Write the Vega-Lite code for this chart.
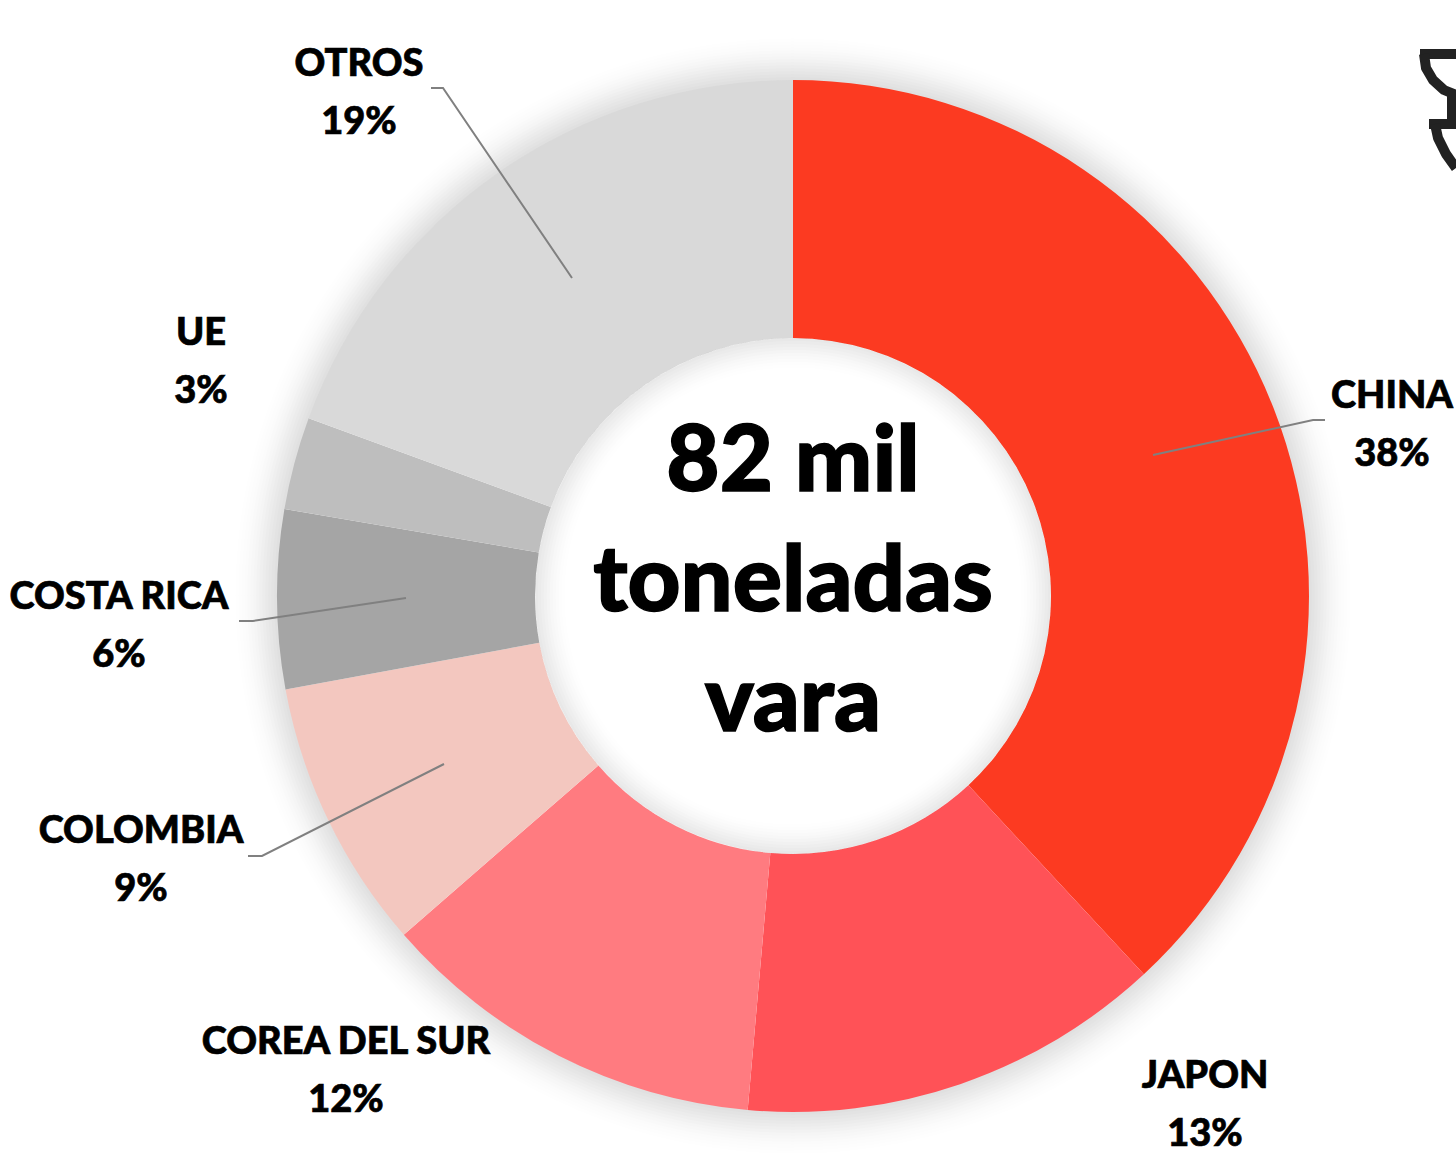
{
"$schema":"https://vega.github.io/schema/vega-lite/v6.json",
"autosize":{"type":"none"},
"width":1456,"height":1153,"padding":0,"background":"#ffffff",
"config":{"view":{"stroke":null}},
"datasets":{
"paises":[
{"pais":"CHINA","pct":38.1,"orden":1},
{"pais":"JAPON","pct":13.3,"orden":2},
{"pais":"COREA DEL SUR","pct":12.2,"orden":3},
{"pais":"COLOMBIA","pct":8.5,"orden":4},
{"pais":"COSTA RICA","pct":5.6,"orden":5},
{"pais":"UE","pct":2.9,"orden":6},
{"pais":"OTROS","pct":19.4,"orden":7}],
"etiquetas":[
{"label":"OTROS\n19%","x":-434,"y":520},
{"label":"UE\n3%","x":-592,"y":251},
{"label":"CHINA\n38%","x":599,"y":188},
{"label":"COSTA RICA\n6%","x":-674,"y":-13},
{"label":"COLOMBIA\n9%","x":-652,"y":-247},
{"label":"COREA DEL SUR\n12%","x":-447,"y":-458},
{"label":"JAPON\n13%","x":412,"y":-492}],
"guias":[
{"g":"OTROS","i":1,"x":-362,"y":508},{"g":"OTROS","i":2,"x":-350,"y":508},{"g":"OTROS","i":3,"x":-221,"y":318},
{"g":"CHINA","i":1,"x":532,"y":176},{"g":"CHINA","i":2,"x":520,"y":176},{"g":"CHINA","i":3,"x":360,"y":141},
{"g":"COSTA RICA","i":1,"x":-554,"y":-25},{"g":"COSTA RICA","i":2,"x":-540,"y":-25},{"g":"COSTA RICA","i":3,"x":-387,"y":-2},
{"g":"COLOMBIA","i":1,"x":-545,"y":-260},{"g":"COLOMBIA","i":2,"x":-531,"y":-260},{"g":"COLOMBIA","i":3,"x":-349,"y":-168}],
"icono":[
{"g":"a","i":1,"x":627,"y":542},{"g":"a","i":2,"x":663,"y":542},
{"g":"b","i":1,"x":631,"y":542},{"g":"b","i":2,"x":633,"y":528},{"g":"b","i":3,"x":640,"y":516},{"g":"b","i":4,"x":651,"y":506},{"g":"b","i":5,"x":663,"y":501},
{"g":"c","i":1,"x":659,"y":501},{"g":"c","i":2,"x":659,"y":474},
{"g":"d","i":1,"x":636,"y":472},{"g":"d","i":2,"x":663,"y":472},
{"g":"e","i":1,"x":642,"y":472},{"g":"e","i":2,"x":645,"y":458},{"g":"e","i":3,"x":653,"y":442},{"g":"e","i":4,"x":663,"y":428}],
"centro":[{"t":"82 mil\ntoneladas\nvara","x":0,"y":105.5}],
"c":[{"nombre":"centro"}]
},
"layer":[
{
"encoding":{
"x":{"datum":0,"type":"quantitative","scale":{"domain":[-793,663],"nice":false,"zero":false},"axis":null},
"y":{"datum":0,"type":"quantitative","scale":{"domain":[-557,596],"nice":false,"zero":false},"axis":null}
},
"layer":[
{"data":{"name":"c"},"mark":{"type":"arc","theta":0,"theta2":6.2832,"innerRadius":515,"radius":558,"fill":"#000","opacity":0.002}},
{"data":{"name":"c"},"mark":{"type":"arc","theta":0,"theta2":6.2832,"innerRadius":515,"radius":555,"fill":"#000","opacity":0.003}},
{"data":{"name":"c"},"mark":{"type":"arc","theta":0,"theta2":6.2832,"innerRadius":515,"radius":552,"fill":"#000","opacity":0.004}},
{"data":{"name":"c"},"mark":{"type":"arc","theta":0,"theta2":6.2832,"innerRadius":515,"radius":549,"fill":"#000","opacity":0.005}},
{"data":{"name":"c"},"mark":{"type":"arc","theta":0,"theta2":6.2832,"innerRadius":515,"radius":546,"fill":"#000","opacity":0.006}},
{"data":{"name":"c"},"mark":{"type":"arc","theta":0,"theta2":6.2832,"innerRadius":515,"radius":543,"fill":"#000","opacity":0.008}},
{"data":{"name":"c"},"mark":{"type":"arc","theta":0,"theta2":6.2832,"innerRadius":515,"radius":540,"fill":"#000","opacity":0.009}},
{"data":{"name":"c"},"mark":{"type":"arc","theta":0,"theta2":6.2832,"innerRadius":515,"radius":537,"fill":"#000","opacity":0.01}},
{"data":{"name":"c"},"mark":{"type":"arc","theta":0,"theta2":6.2832,"innerRadius":515,"radius":534,"fill":"#000","opacity":0.011}},
{"data":{"name":"c"},"mark":{"type":"arc","theta":0,"theta2":6.2832,"innerRadius":515,"radius":531,"fill":"#000","opacity":0.012}},
{"data":{"name":"c"},"mark":{"type":"arc","theta":0,"theta2":6.2832,"innerRadius":515,"radius":528,"fill":"#000","opacity":0.012}},
{"data":{"name":"c"},"mark":{"type":"arc","theta":0,"theta2":6.2832,"innerRadius":515,"radius":525,"fill":"#000","opacity":0.012}},
{"data":{"name":"c"},"mark":{"type":"arc","theta":0,"theta2":6.2832,"innerRadius":515,"radius":522,"fill":"#000","opacity":0.012}},
{"data":{"name":"c"},"mark":{"type":"arc","theta":0,"theta2":6.2832,"innerRadius":515,"radius":519,"fill":"#000","opacity":0.012}},
{"data":{"name":"paises"},
 "transform":[{"stack":"pct","sort":[{"field":"orden","order":"ascending"}],"as":["ini","fin"]}],
 "mark":{"type":"arc","radius":516,"innerRadius":258},
 "encoding":{
  "theta":{"field":"ini","type":"quantitative","scale":{"domain":[0,100],"nice":false}},
  "theta2":{"field":"fin"},
  "color":{"field":"pais","type":"nominal","legend":null,"sort":null,
   "scale":{"domain":["CHINA","JAPON","COREA DEL SUR","COLOMBIA","COSTA RICA","UE","OTROS"],
   "range":["#FC3A21","#FF5257","#FF7B80","#F3C7BF","#A5A5A5","#BEBEBE","#D9D9D9"]}}
 }},
{"data":{"name":"c"},"mark":{"type":"arc","theta":0,"theta2":6.2832,"innerRadius":228,"radius":258.5,"fill":"#000","opacity":0.003}},
{"data":{"name":"c"},"mark":{"type":"arc","theta":0,"theta2":6.2832,"innerRadius":231,"radius":258.5,"fill":"#000","opacity":0.004}},
{"data":{"name":"c"},"mark":{"type":"arc","theta":0,"theta2":6.2832,"innerRadius":234,"radius":258.5,"fill":"#000","opacity":0.006}},
{"data":{"name":"c"},"mark":{"type":"arc","theta":0,"theta2":6.2832,"innerRadius":237,"radius":258.5,"fill":"#000","opacity":0.008}},
{"data":{"name":"c"},"mark":{"type":"arc","theta":0,"theta2":6.2832,"innerRadius":240,"radius":258.5,"fill":"#000","opacity":0.009}},
{"data":{"name":"c"},"mark":{"type":"arc","theta":0,"theta2":6.2832,"innerRadius":243,"radius":258,"fill":"#000","opacity":0.01}},
{"data":{"name":"c"},"mark":{"type":"arc","theta":0,"theta2":6.2832,"innerRadius":246,"radius":258,"fill":"#000","opacity":0.011}},
{"data":{"name":"c"},"mark":{"type":"arc","theta":0,"theta2":6.2832,"innerRadius":249,"radius":258,"fill":"#000","opacity":0.012}},
{"data":{"name":"c"},"mark":{"type":"arc","theta":0,"theta2":6.2832,"innerRadius":252,"radius":258,"fill":"#000","opacity":0.012}},
{"data":{"name":"c"},"mark":{"type":"arc","theta":0,"theta2":6.2832,"innerRadius":255,"radius":258,"fill":"#000","opacity":0.012}}
]},
{
"encoding":{
"x":{"field":"x","type":"quantitative","scale":{"domain":[-793,663],"nice":false,"zero":false},"axis":null},
"y":{"field":"y","type":"quantitative","scale":{"domain":[-557,596],"nice":false,"zero":false},"axis":null}
},
"layer":[
{"data":{"name":"guias"},
 "mark":{"type":"line","color":"#808080","strokeWidth":2},
 "encoding":{"detail":{"field":"g"},"order":{"field":"i","type":"quantitative"}}},
{"data":{"name":"icono"},
 "mark":{"type":"line","color":"#222222","strokeWidth":10,"strokeJoin":"round"},
 "encoding":{"detail":{"field":"g"},"order":{"field":"i","type":"quantitative"}}},
{"data":{"name":"etiquetas"},
 "mark":{"type":"text","font":"Lato","fontWeight":900,"fontSize":38,"lineHeight":58,"lineBreak":"\n","align":"center","baseline":"alphabetic","color":"#000","stroke":"#000","strokeWidth":0.7},
 "encoding":{"text":{"field":"label"}}},
{"data":{"name":"centro"},
 "mark":{"type":"text","font":"Lato","fontWeight":900,"fontSize":92,"lineHeight":120,"lineBreak":"\n","align":"center","baseline":"alphabetic","color":"#000","stroke":"#000","strokeWidth":1.5},
 "encoding":{"text":{"field":"t"}}}
]}
]
}
